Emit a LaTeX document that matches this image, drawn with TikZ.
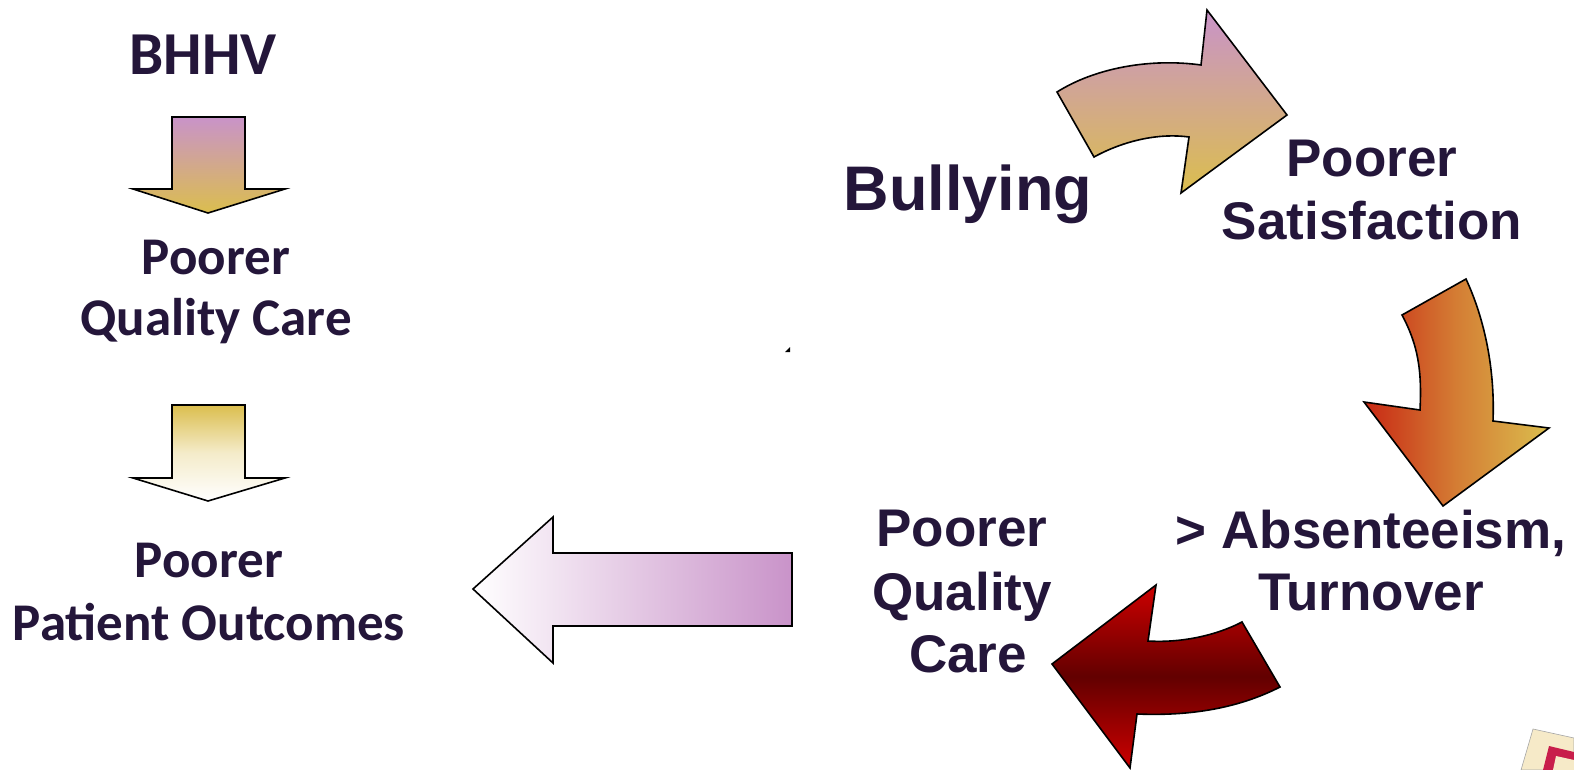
\documentclass[tikz,border=0pt]{standalone}
\usepackage{fontspec}
\newfontfamily\calfont{Carlito}
\newfontfamily\arifont{Liberation Sans}
\definecolor{textc}{RGB}{36,22,58}
\definecolor{purp}{RGB}{201,147,201}
\definecolor{gold}{RGB}{219,190,78}
\definecolor{redA}{RGB}{200,40,20}
\definecolor{orangeA}{RGB}{212,125,52}
\definecolor{redB}{RGB}{205,0,0}
\definecolor{darkB}{RGB}{98,0,0}
\definecolor{beige}{RGB}{246,234,200}
\definecolor{stampred}{RGB}{200,30,75}
\begin{document}
\begin{tikzpicture}[x=1pt,y=-1pt,
  lt/.style={font=\calfont\bfseries\fontsize{53}{63}\selectfont, text=textc, anchor=base, inner sep=0pt},
  rt/.style={font=\arifont\bfseries\fontsize{53}{63}\selectfont, text=textc, anchor=base, inner sep=0pt},
  shape outline/.style={draw=black, line width=1.6pt, line join=miter}]
\useasboundingbox (0,0) rectangle (1574,770);
\fill[white] (0,0) rectangle (1574,770);

% left column arrows
\draw[shape outline, top color=purp, bottom color=gold]
  (172,117) -- (245,117) -- (245,189) -- (285,189) -- (208,213) -- (133,189) -- (172,189) -- cycle;
\draw[shape outline, top color=gold, bottom color=white, middle color=gold!30]
  (172,405) -- (245,405) -- (245,478) -- (285,478) -- (208,501) -- (133,478) -- (172,478) -- cycle;

% big left arrow
\draw[shape outline, left color=white, right color=purp]
  (473,589) -- (553,517) -- (553,553) -- (792,553) -- (792,626) -- (553,626) -- (553,663) -- cycle;

% curved arrow top
\draw[shape outline, top color=purp, bottom color=gold]
  (1057,92) -- (1094,157) .. controls (1125,140) and (1160,133) .. (1189,137)
  -- (1181,193) -- (1287,115) -- (1207,10) -- (1201,65)
  .. controls (1150,58) and (1095,68) .. cycle;

% curved arrow right
\draw[shape outline, left color=redA, right color=gold, middle color=orangeA]
  (1402,315) -- (1466,279) .. controls (1485,320) and (1495,370) .. (1493,421)
  -- (1549,428) -- (1443,506) -- (1364,402) -- (1420,410)
  .. controls (1422,370) and (1418,345) .. cycle;

% curved arrow bottom
\draw[shape outline, top color=redB, bottom color=redB, middle color=darkB]
  (1242,622) -- (1280,687) .. controls (1235,710) and (1185,716) .. (1137,714)
  -- (1130,768) -- (1052,664) -- (1156,585) -- (1148,641)
  .. controls (1180,643) and (1215,636) .. cycle;

% tiny mark
\fill[black] (785,352) -- (790,347) -- (790,352) -- cycle;

% stamp fragment
\fill[beige, draw=gray!70, line width=0.6pt] (1533,729) -- (1574,738) -- (1574,770) -- (1521,770) -- cycle;
\fill[stampred] (1549,746) -- (1574,752) -- (1574,770) -- (1543,770) -- cycle;
\fill[beige] (1556,756) -- (1574,760) -- (1574,770) -- (1553,770) -- cycle;

% texts left
\node[lt, font=\calfont\bfseries\fontsize{61}{70}\selectfont] (bhhv) at (203,75) {BHHV};
\node[lt] (lq1) at (216,274) {Poorer};
\node[lt] (lq2) at (216,335) {Quality Care};
\node[lt] (lp1) at (209,577) {Poorer};
\node[lt] (lp2) at (209,640) {Patient Outcomes};

% texts right
\node[rt, font=\arifont\bfseries\fontsize{63}{72}\selectfont] (bully) at (968,211) {Bullying};
\node[rt] (ps1) at (1372,177) {Poorer};
\node[rt] (ps2) at (1372,240) {Satisfaction};
\node[rt] (ab1) at (1371,548) {> Absenteeism,};
\node[rt] (ab2) at (1371,610) {Turnover};
\node[rt] (pq1) at (962,546) {Poorer};
\node[rt] (pq2) at (962,610) {Quality};
\node[rt] (pq3) at (968,672) {Care};
\end{tikzpicture}
\end{document}
